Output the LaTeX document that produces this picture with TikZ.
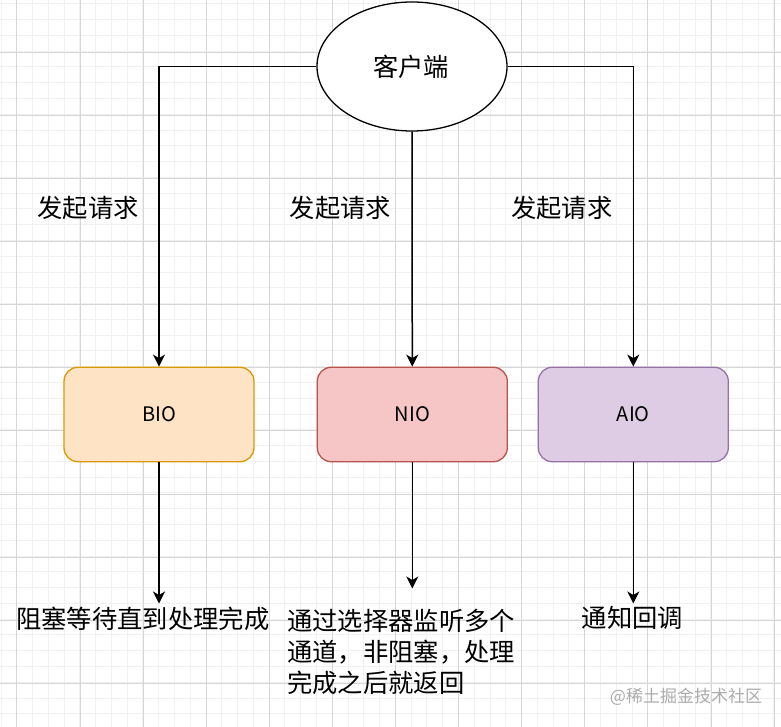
\documentclass[tikz,border=0pt]{standalone}
\usepackage{fontspec}
\setmainfont{Noto Sans CJK SC}
\usetikzlibrary{arrows.meta,shapes.geometric}
\definecolor{gridminor}{HTML}{F1F1F1}
\definecolor{gridmajor}{HTML}{D6D6D6}
\definecolor{biofill}{HTML}{FEE3C4}
\definecolor{biodraw}{HTML}{D79B00}
\definecolor{niofill}{HTML}{F5C6C5}
\definecolor{niodraw}{HTML}{B85450}
\definecolor{aiofill}{HTML}{DDCCE3}
\definecolor{aiodraw}{HTML}{9673A6}
\definecolor{wmark}{HTML}{ABABAB}
\tikzset{
  box/.style={rounded corners=14pt, line width=1.3pt, minimum width=190pt, minimum height=94.5pt, inner sep=0pt, font=\fontsize{20}{22}\selectfont},
  cjk/.style={inner sep=0pt, font=\fontsize{25.3}{31}\selectfont},
  conn/.style={line width=1.5pt, -{Stealth[length=12pt,width=12pt,inset=3.5pt]}},
}
\begin{document}
\begin{tikzpicture}[x=1pt,y=-1pt]
\useasboundingbox (0,0) rectangle (781,727);
\fill[white] (0,0) rectangle (781,727);
% grid
\foreach \k in {0,...,49} {
  \draw[gridminor, line width=1pt] ({1+15.775*\k},0) -- ({1+15.775*\k},727);
  \draw[gridminor, line width=1pt] (0,{3.9+15.775*\k}) -- (781,{3.9+15.775*\k});
}
\foreach \k in {-1,...,12} {
  \draw[gridmajor, line width=1pt] ({80+63.1*\k},0) -- ({80+63.1*\k},727);
  \draw[gridmajor, line width=1pt] (0,{52.3+63.1*\k}) -- (781,{52.3+63.1*\k});
}
% nodes
\node[ellipse, draw, fill=white, line width=1.3pt, minimum width=190pt, minimum height=129pt, inner sep=0pt] (client) at (412,66.5) {};
\node[cjk] (clientlabel) at (411,66.7) {客户端};
\node[box, draw=biodraw, fill=biofill] (bio) at (159,414.5) {BIO};
\node[box, draw=niodraw, fill=niofill] (nio) at (412.3,414.5) {NIO};
\node[box, draw=aiodraw, fill=aiofill] (aio) at (633.3,414.5) {AIO};
% labels
\node[cjk] (req1) at (88,208.3) {发起请求};
\node[cjk] (req2) at (340.5,208.3) {发起请求};
\node[cjk] (req3) at (561.7,208.3) {发起请求};
\node[cjk] (biotext) at (142.8,619.3) {阻塞等待直到处理完成};
\node[cjk, align=left, anchor=base west] (niotext) at (287,692) {通过选择器监听多个\\通道，非阻塞，处理\\完成之后就返回};
\node[cjk] (aiotext) at (632.5,618.3) {通知回调};
\node[inner sep=0pt, text=wmark, font=\fontsize{17}{20}\selectfont] (wm) at (686,697) {@稀土掘金技术社区};
% connectors
\coordinate (bioend) at (159,603.5);
\coordinate (nioend) at (412.3,588.5);
\coordinate (aioend) at (633.3,603.5);
\draw[conn] (client.west) -| (bio.north);
\draw[conn] (client.south) -- (nio.north);
\draw[conn] (client.east) -| (aio.north);
\draw[conn] (bio.south) -- (bioend);
\draw[conn] (nio.south) -- (nioend);
\draw[conn] (aio.south) -- (aioend);
\end{tikzpicture}
\end{document}
